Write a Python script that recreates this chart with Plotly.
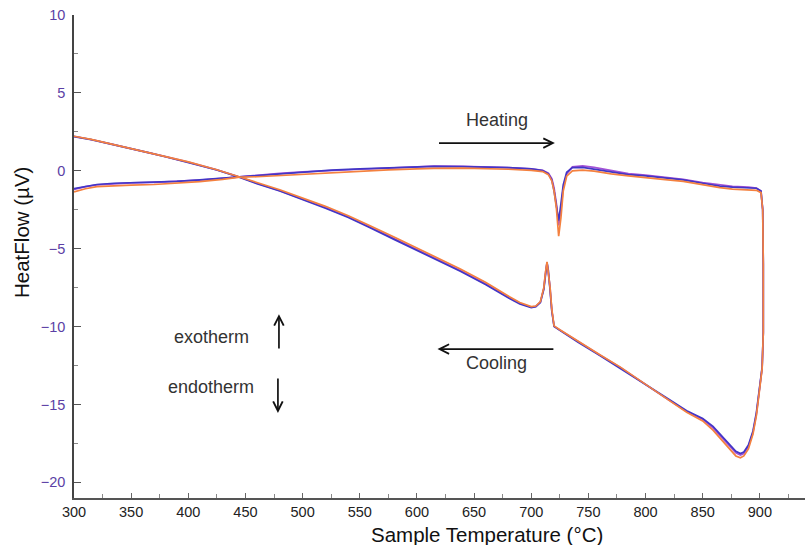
import plotly.graph_objects as go

# Temperature grid (°C) for the heating branch, 300 -> 901
HEAT_T = [300, 310, 320, 335, 350, 370, 390, 410, 430, 445, 460, 480, 500, 525, 550,
          575, 600, 615, 640, 660, 680, 700, 710, 715, 718, 720, 722, 724, 726, 728,
          731, 736, 745, 755, 770, 785, 800, 815, 833, 850, 865, 876, 890, 897, 901]

# Heat flow (µV) on heating, one list per run
HEAT_BLUE = [-1.15, -1.0, -0.88, -0.8, -0.77, -0.74, -0.68, -0.58, -0.47, -0.38, -0.28, -0.15,
             -0.05, 0.05, 0.12, 0.18, 0.24, 0.28, 0.27, 0.24, 0.2, 0.12, 0.02, -0.2, -0.6,
             -1.3, -2.3, -3.2, -2.1, -0.9, -0.1, 0.2, 0.22, 0.1, -0.1, -0.25, -0.33, -0.45,
             -0.58, -0.8, -0.98, -1.05, -1.1, -1.12, -1.3]
HEAT_PURPLE = [-1.2, -1.02, -0.9, -0.82, -0.78, -0.74, -0.69, -0.6, -0.48, -0.38, -0.3, -0.17,
               -0.07, 0.03, 0.1, 0.17, 0.23, 0.3, 0.28, 0.25, 0.2, 0.12, 0.03, -0.15, -0.5,
               -1.1, -2.1, -3.5, -2.5, -1.1, -0.2, 0.25, 0.32, 0.22, 0.0, -0.18, -0.28, -0.4,
               -0.55, -0.75, -0.92, -1.0, -1.05, -1.1, -1.3]
HEAT_ORANGE = [-1.35, -1.15, -1.02, -0.95, -0.92, -0.88, -0.8, -0.7, -0.55, -0.4, -0.38, -0.3,
               -0.22, -0.12, -0.02, 0.06, 0.12, 0.16, 0.17, 0.14, 0.1, 0.03, -0.05, -0.25, -0.65,
               -1.3, -2.4, -4.2, -3.0, -1.3, -0.35, 0.0, 0.05, -0.02, -0.2, -0.33, -0.42, -0.55,
               -0.68, -0.9, -1.08, -1.17, -1.22, -1.25, -1.4]

# Temperature grid (°C) for the hold drop and cooling branch, 902 -> 300
COOL_T = [902.5, 903, 903, 902, 900, 897, 894, 890, 886, 883, 879, 874, 867, 859, 850,
          836, 820, 804, 778, 760, 741, 725, 720, 718, 716.5, 715, 713.8, 712.5, 711, 708,
          704, 700, 690, 681, 660, 638, 620, 600, 580, 559, 540, 520, 498, 480, 460,
          445, 425, 400, 380, 366, 350, 330, 315, 300]

COOL_BLUE = [-2.5, -6.0, -10.4, -12.6, -13.8, -15.5, -16.7, -17.6, -18.05, -18.15, -18.0, -17.6,
             -17.1, -16.4, -15.9, -15.4, -14.65, -13.9, -12.65, -11.85, -11.0, -10.25, -10.0,
             -9.0, -7.6, -6.4, -5.9, -6.6, -7.6, -8.45, -8.72, -8.78, -8.55, -8.2, -7.3, -6.45,
             -5.8, -5.1, -4.4, -3.65, -3.0, -2.4, -1.8, -1.3, -0.82, -0.42, 0.05, 0.55, 0.9,
             1.15, 1.42, 1.75, 2.0, 2.2]
COOL_PURPLE = [-2.5, -6.0, -10.4, -12.65, -13.85, -15.6, -16.8, -17.7, -18.15, -18.25, -18.1,
               -17.7, -17.2, -16.5, -15.95, -15.45, -14.7, -13.9, -12.62, -11.82, -10.98,
               -10.22, -9.98, -8.95, -7.55, -6.35, -5.88, -6.55, -7.55, -8.42, -8.7, -8.75,
               -8.5, -8.15, -7.25, -6.4, -5.75, -5.05, -4.35, -3.6, -2.95, -2.35, -1.76, -1.27,
               -0.8, -0.4, 0.06, 0.56, 0.91, 1.16, 1.43, 1.76, 2.01, 2.21]
COOL_ORANGE = [-2.5, -6.0, -10.4, -12.7, -13.9, -15.7, -16.9, -17.85, -18.3, -18.42, -18.3,
               -17.9, -17.35, -16.65, -16.05, -15.5, -14.7, -13.9, -12.6, -11.8, -10.95, -10.2,
               -9.95, -8.9, -7.5, -6.3, -5.85, -6.5, -7.5, -8.4, -8.68, -8.72, -8.45, -8.08,
               -7.15, -6.3, -5.65, -4.95, -4.25, -3.52, -2.88, -2.28, -1.7, -1.22, -0.75, -0.38,
               0.07, 0.57, 0.92, 1.17, 1.44, 1.77, 2.02, 2.22]

RUNS = [
    ("Run 2", HEAT_PURPLE, COOL_PURPLE, "#a452d6"),
    ("Run 1", HEAT_BLUE, COOL_BLUE, "#4236c6"),
    ("Run 3", HEAT_ORANGE, COOL_ORANGE, "#f4813f"),
]

FONT = "Arial, 'Liberation Sans', sans-serif"

fig = go.Figure()
for name, heat, cool, color in RUNS:
    fig.add_trace(go.Scatter(
        x=HEAT_T + COOL_T,
        y=heat + cool,
        mode="lines",
        name=name,
        line=dict(color=color, width=1.7),
        showlegend=False,
    ))

ARROW = dict(showarrow=True, arrowhead=5, arrowsize=1.1, arrowwidth=1.7,
             arrowcolor="#111111", axref="x", ayref="y", text="")
TXT = dict(showarrow=False, font=dict(family=FONT, size=18, color="#333333"))

annotations = [
    dict(x=720.7, y=1.78, ax=618, ay=1.78, **ARROW),
    dict(x=618, y=-11.44, ax=720.7, ay=-11.44, **ARROW),
    dict(x=479.3, y=-9.2, ax=479.3, ay=-11.5, **ARROW),
    dict(x=478.4, y=-15.54, ax=478.4, ay=-13.23, **ARROW),
    dict(x=670, y=3.26, text="Heating", **TXT),
    dict(x=670, y=-12.33, text="Cooling", **TXT),
    dict(x=420.7, y=-10.67, text="exotherm", **TXT),
    dict(x=419.8, y=-13.88, text="endotherm", **TXT),
    dict(x=0.565, y=-0.0766, xref="paper", yref="paper", showarrow=False,
         text="Sample Temperature (°C)", xanchor="center", yanchor="middle",
         font=dict(family=FONT, size=20.5, color="#111111")),
    dict(x=-0.0711, y=0.5487, xref="paper", yref="paper", showarrow=False,
         text="HeatFlow (µV)", textangle=-90, xanchor="center", yanchor="middle",
         font=dict(family=FONT, size=20.5, color="#111111")),
]

fig.update_layout(
    width=805, height=545,
    margin=dict(l=74, r=0, t=15, b=47),
    paper_bgcolor="white", plot_bgcolor="white",
    font=dict(family=FONT),
    annotations=annotations,
    xaxis=dict(
        range=[300, 939.5], tick0=300, dtick=50,
        ticks="inside", ticklen=5, tickwidth=1, tickcolor="#666666",
        minor=dict(dtick=25, ticks="inside", ticklen=4, tickcolor="#888888"),
        showline=True, linecolor="#555555", linewidth=2,
        showgrid=False, zeroline=False,
        tickfont=dict(family=FONT, size=14.5, color="#222222"),
    ),
    yaxis=dict(
        range=[-21, 10], tick0=0, dtick=5,
        ticks="inside", ticklen=7, tickwidth=1, tickcolor="#555555",
        minor=dict(dtick=2.5, ticks="inside", ticklen=4, tickcolor="#888888"),
        showline=True, linecolor="#444444", linewidth=1.5,
        showgrid=False, zeroline=False,
        ticklabelstandoff=4,
        tickfont=dict(family=FONT, size=14.5, color="#5b3fa5"),
    ),
)

fig.write_html("out.html", config={"displayModeBar": False})
